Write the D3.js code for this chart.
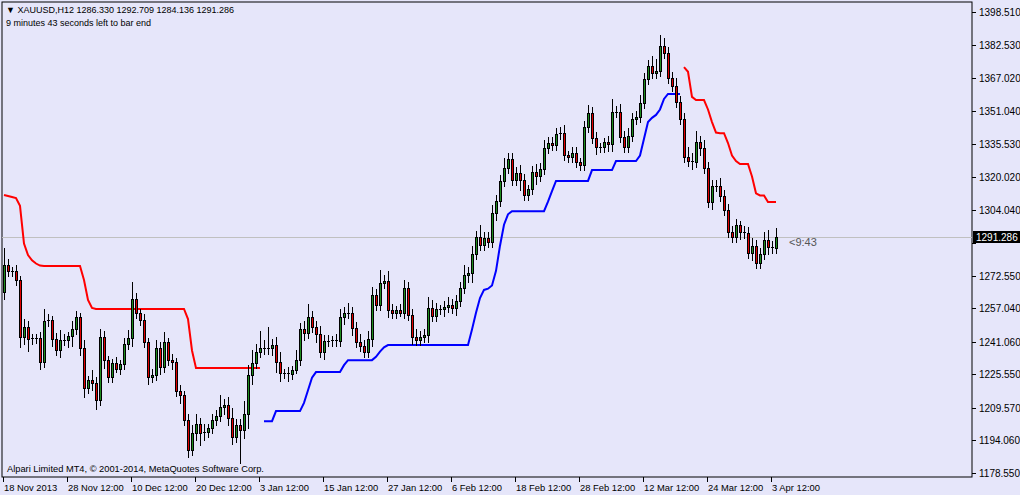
<!DOCTYPE html>
<html><head><meta charset="utf-8">
<script src="https://cdn.jsdelivr.net/npm/d3@7"></script>
<style>
body{margin:0;background:#e6e6fa;}
svg{display:block;font-family:"Liberation Sans",Arial,sans-serif;}
</style></head>
<body><svg id="chart" width="1020" height="495"></svg>
<script>
// XAUUSD H12 closes
const closes = [
1277.8,1274.9,1274.9,1270.6,1243.4,1248.2,1242.5,1242.9,1242.9,1231.5,
1251.0,1251.5,1242.5,1237.2,1242.0,1242.0,1243.9,1247.2,1253.0,1238.2,
1219.1,1222.9,1221.5,1213.4,1243.4,1232.4,1224.3,1231.0,1228.2,1230.5,
1240.1,1242.9,1261.5,1254.9,1251.5,1241.0,1224.3,1225.3,1238.2,1229.1,
1241.0,1232.4,1231.5,1217.7,1215.7,1203.8,1189.5,
1197.6,1201.9,1197.6,1198.1,1200.0,1203.8,1205.7,1210.0,1211.0,1204.8,1195.7,1201.4,1199.0,1206.7,
1225.3,1231.0,1236.3,1238.2,1237.7,1238.2,1239.6,1231.5,1226.2,1226.2,
1225.8,1227.7,1232.4,1247.2,1245.3,1253.0,1248.2,1244.8,1236.3,1241.5,
1241.5,1242.0,1241.5,1253.0,1254.9,1254.9,1247.7,1241.0,1239.1,1236.3,
1242.5,1263.5,1258.7,1269.2,1270.1,1256.3,
1254.9,1256.3,1254.9,1266.8,1253.9,1243.4,1242.0,1243.4,1244.4,1257.3,
1253.4,1256.8,1256.8,1257.7,1258.7,1257.3,1260.6,1266.8,1273.0,1274.0,
1283.0,1291.1,1287.3,1290.7,1288.7,1302.6,1308.3,1317.8,1324.0,1328.3,
1318.3,1321.7,1318.3,1311.2,1314.0,1322.1,1320.2,1323.6,1333.6,1336.0,
1335.0,1340.3,1340.7,1330.2,1329.3,1331.2,1326.9,1325.5,
1343.6,1350.3,1338.4,1334.1,1334.1,1336.5,1335.5,1350.8,1350.8,1338.8,
1334.1,1339.3,1347.4,1348.4,1355.1,1366.5,1372.7,1369.4,1370.3,1382.3,
1378.9,1367.0,1363.2,1355.5,1347.4,1329.3,1327.4,1326.9,1336.5,1333.6,
1324.0,1307.8,1315.5,1315.5,1310.7,1304.0,1293.5,1291.1,1296.9,1293.5,
1293.0,1283.5,1286.8,1278.7,1283.0,1289.7,1286.4,1285.9,1291.286
];
const firstOpen = 1265.0;
// wick lengths above / below the body
const wickUp = [
8,3,2,3,2,4,3,2,2,3, 6,3,2,3,5,3,2,4,3,2, 4,2,5,3,4,3,2,2,3,2,
3,4,8,3,2,3,2,3,4,3, 5,2,3,2,3,2,3, 4,5,3,4,2,3,3,6,3,4,5,3,3,6,
5,6,4,8,4,10,3,4,5,2, 3,2,5,3,4,6,3,3,4,3, 3,2,3,4,3,5,3,3,4,3,
4,4,3,6,3,5, 3,2,3,4,3,3,4,3,3,5, 4,3,2,3,4,3,3,3,5,3, 4,3,6,3,3,4,3,3,5,3,
3,3,4,3,2,3,4,3,4,3, 3,3,3,4,2,3,3,2,
3,4,3,3,2,2,3,6,3,4, 3,4,3,3,4,3,3,5,6,5, 4,3,3,4,3,3,5,4,5,3,
4,3,3,3,4,3,3,3,3,2, 3,3,4,3,3,4,5,3,4,4
];
const wickDn = [
4,3,3,3,5,4,6,3,3,4, 3,3,4,3,4,3,4,5,3,4, 5,3,4,5,3,4,3,3,2,3,
3,3,4,3,3,3,4,3,3,4, 3,3,4,3,4,3,4, 3,4,6,4,3,3,3,3,4,4,4,3,16,4,
7,5,3,3,3,3,4,5,4,3, 4,3,2,3,4,3,3,4,3,4, 3,3,3,3,4,3,4,3,3,3,
3,4,3,3,3,4, 3,3,2,3,3,4,3,3,3,4, 3,3,3,4,3,3,4,3,3,4, 5,3,3,3,3,3,4,3,3,3,
3,3,5,3,3,3,4,3,3,3, 3,3,3,3,3,3,3,3,
3,3,3,4,3,3,4,4,3,3, 3,3,3,3,3,3,3,3,3,3, 3,3,3,3,3,3,3,4,3,4,
3,3,4,3,3,3,3,3,3,4, 3,3,4,3,3,3,4,3,3,3
];
// stepped trailing lines; null where not drawn
const redStart1 = 0;
const redLine1 = [1311.2,1310.7,1310.2,1309.7,1306.0,1288.0,1282.5,1280.0,1278.5,1277.5,
1277.3,1277.3,1277.3,1277.3,1277.3,1277.3,1277.3,1277.3,1277.3,1277.3,
1270.6,1261.1,1257.3,1256.8,1256.8,1256.8,1256.8,1256.8,1256.8,1256.8,
1256.8,1256.8,1256.8,1256.8,1256.8,1256.8,1256.8,1256.8,1256.8,1256.8,
1256.8,1256.8,1256.8,1256.8,1256.8,1256.8,1252.0,1237.0,1228.6,1228.6,
1228.6,1228.6,1228.6,1228.6,1228.6,1228.6,1228.6,1228.6,1228.6,1228.6,
1228.6,1228.6,1228.6,1228.6,1228.6];
const blueStart = 65;
const blueLine = [1203.3,1203.3,1203.3,1208.1,1208.1,1208.1,1208.1,1208.1,1208.1,1208.1,
1212.0,1218.0,1224.0,1226.7,1226.7,1226.7,1226.7,1226.7,1226.7,1226.7,
1230.0,1232.4,1232.4,1232.4,1232.4,1232.4,1232.4,1232.4,1234.0,1236.5,1238.5,
1239.6,1239.6,1239.6,1239.6,1239.6,1239.6,1239.6,1239.6,1239.6,1239.6,
1239.6,1239.6,1239.6,1239.6,1239.6,1239.6,1239.6,1239.6,1239.6,1239.6,1239.6,
1247.0,1255.0,1262.0,1265.9,1266.5,1268.0,1275.0,1287.0,1297.0,1302.0,
1303.5,1303.5,1303.5,1303.5,1303.5,1303.5,1303.5,1303.5,1303.5,
1308.0,1313.0,1317.9,1317.9,1317.9,1317.9,1317.9,1317.9,1317.9,1317.9,1317.9,
1323.1,1323.1,1323.1,1323.1,1323.1,1323.1,
1327.4,1327.4,1327.4,1327.4,1327.4,1327.4,
1330.0,1338.0,1346.0,1348.0,1349.4,1352.0,1357.0,1359.4,1359.4,1359.4,1359.4];
const redStart2 = 170;
const redLine2 = [1372.2,1370.0,1358.0,1356.5,1356.5,1356.5,1352.0,1346.0,1341.0,1340.7,1340.7,
1336.0,1330.0,1327.4,1326.0,1326.0,1326.0,1320.0,1312.0,1311.0,1311.0,1307.8,1307.8,1307.8];
const priceTicks = [1398.510,1382.530,1367.020,1351.040,1335.530,1320.020,1304.040,1288.530,
1272.550,1257.040,1241.060,1225.550,1209.570,1194.060,1178.550];
const dateLabels = ["18 Nov 2013","28 Nov 12:00","10 Dec 12:00","20 Dec 12:00","3 Jan 12:00",
"15 Jan 12:00","27 Jan 12:00","6 Feb 12:00","18 Feb 12:00","28 Feb 12:00","12 Mar 12:00",
"24 Mar 12:00","3 Apr 12:00"];
const lastPrice = 1291.286;

const svg = d3.select('#chart');
const plot = {left: 2, right: 972, top: 2, bottom: 477};
const x = d3.scaleLinear().domain([0, 193]).range([4, 776]);
const y = d3.scaleLinear().domain([1178.55, 1398.51]).range([473, 12]);

const bars = closes.map((c, i) => {
  const o = i === 0 ? firstOpen : closes[i - 1];
  return {i, o, c, h: Math.max(o, c) + wickUp[i], l: Math.min(o, c) - wickDn[i]};
});

svg.append('rect').attr('x', plot.left).attr('y', plot.top)
  .attr('width', plot.right - plot.left).attr('height', plot.bottom - plot.top)
  .attr('fill', '#e6e6fa').attr('stroke', '#000').attr('stroke-width', 1);

// current price line
svg.append('line').attr('x1', plot.left).attr('x2', plot.right)
  .attr('y1', Math.round(y(lastPrice)) + 0.5).attr('y2', Math.round(y(lastPrice)) + 0.5)
  .attr('stroke', '#c0c0c0');

const line = d3.line().x(d => x(d.i)).y(d => y(d.v)).curve(d3.curveLinear);
function drawLine(vals, start, color) {
  svg.append('path').datum(vals.map((v, k) => ({i: start + k, v})))
    .attr('d', line).attr('fill', 'none').attr('stroke', color).attr('stroke-width', 2);
}
drawLine(redLine1, redStart1, '#ff0000');
drawLine(blueLine, blueStart, '#0000ff');
drawLine(redLine2, redStart2, '#ff0000');

const g = svg.append('g');
bars.forEach(b => {
  const cx = Math.round(x(b.i));
  g.append('line').attr('x1', cx + 0.5).attr('x2', cx + 0.5)
    .attr('y1', Math.round(y(b.h))).attr('y2', Math.round(y(b.l)))
    .attr('stroke', '#000');
  const top = Math.round(y(Math.max(b.o, b.c)));
  const bot = Math.round(y(Math.min(b.o, b.c)));
  if (bot - top < 2) {
    g.append('rect').attr('x', cx - 1).attr('y', top).attr('width', 3).attr('height', 1).attr('fill', '#000');
  } else {
    g.append('rect').attr('x', cx - 1).attr('y', top).attr('width', 3).attr('height', bot - top + 1).attr('fill', '#000');
    g.append('rect').attr('x', cx).attr('y', top + 1).attr('width', 1).attr('height', bot - top - 1)
      .attr('fill', b.c >= b.o ? '#1e8c1e' : '#e00000');
  }
});

// price axis
const ly = Math.round(y(lastPrice));
priceTicks.forEach(p => {
  const py = Math.round(y(p));
  svg.append('line').attr('x1', plot.right).attr('x2', plot.right + 4)
    .attr('y1', py + 0.5).attr('y2', py + 0.5).attr('stroke', '#000');
  if (Math.abs(py - ly) > 10) {
    svg.append('text').attr('x', plot.right + 7).attr('y', py + 4)
      .attr('font-size', 10).attr('fill', '#000').text(p.toFixed(3));
  }
});
svg.append('rect').attr('x', plot.right + 1).attr('y', ly - 6).attr('width', 47).attr('height', 12).attr('fill', '#000');
svg.append('text').attr('x', plot.right + 4).attr('y', ly + 4).attr('font-size', 10)
  .attr('fill', '#fff').text(lastPrice.toFixed(3));

// time axis
dateLabels.forEach((t, k) => {
  const tx = Math.round(x(k * 16)) - 1;
  svg.append('line').attr('x1', tx + 0.5).attr('x2', tx + 0.5).attr('y1', plot.bottom).attr('y2', plot.bottom + 5).attr('stroke', '#000');
  svg.append('text').attr('x', tx + 1).attr('y', plot.bottom + 14).attr('font-size', 9.4).attr('fill', '#000').text(t);
});

svg.append('text').attr('x', 6).attr('y', 13).attr('font-size', 9).text('\u25BC XAUUSD,H12  1286.330 1292.709 1284.136 1291.286');
svg.append('text').attr('x', 6).attr('y', 26).attr('font-size', 9).text('9 minutes 43 seconds left to bar end');
svg.append('text').attr('x', 7).attr('y', 472).attr('font-size', 9.3).text('Alpari Limited MT4, \u00A9 2001-2014, MetaQuotes Software Corp.');
svg.append('text').attr('x', 789).attr('y', ly + 9).attr('font-size', 11).attr('fill', '#555').text('<9:43');
</script></body></html>
